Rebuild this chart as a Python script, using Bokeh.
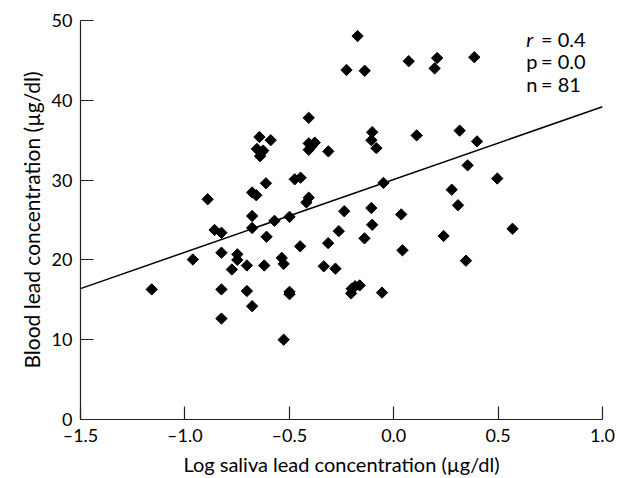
import numpy as np
from bokeh.plotting import figure
from bokeh.models import Range1d, FixedTicker, Label
from bokeh.embed import file_html
from bokeh.resources import INLINE

# --- data ---
saliva_log = [
    -1.159, -0.962, -0.891, -0.858, -0.825, -0.825, -0.825, -0.825, -0.775, -0.749,
    -0.749, -0.703, -0.703, -0.678, -0.678, -0.678, -0.678, -0.658, -0.620, -0.609,
    -0.643, -0.589, -0.655, -0.625, -0.640, -0.612, -0.407, -0.407, -0.378, -0.407,
    -0.313, -0.474, -0.446, -0.407, -0.418, -0.226, -0.237, -0.173, -0.139, -0.103,
    -0.107, -0.083, -0.049, 0.072, 0.208, 0.196, 0.386, 0.110, 0.316, 0.399,
    0.354, 0.496, 0.278, -0.107, 0.036, 0.308, -0.571, -0.499, -0.103, -0.263,
    -0.140, -0.448, -0.314, -0.536, -0.527, -0.335, -0.279, -0.499, -0.499, -0.201,
    -0.163, -0.204, -0.056, -0.527, 0.042, 0.239, 0.569, 0.346, -0.632, -0.185,
    -0.395,
]
blood_lead = [
    16.3, 20.05, 27.6, 23.75, 23.4, 20.9, 16.3, 12.65, 18.8, 20.7,
    20.0, 19.3, 16.1, 14.2, 25.5, 24.0, 28.45, 28.1, 19.3, 22.9,
    35.4, 35.0, 33.9, 33.7, 33.0, 29.6, 37.8, 34.6, 34.7, 33.8,
    33.6, 30.1, 30.3, 27.8, 27.2, 43.8, 26.1, 48.05, 43.7, 36.0,
    35.0, 34.0, 29.65, 44.9, 45.3, 44.0, 45.4, 35.6, 36.2, 34.85,
    31.85, 30.2, 28.8, 26.5, 25.7, 26.85, 24.9, 25.4, 24.4, 23.6,
    22.7, 21.7, 22.1, 20.25, 19.5, 19.2, 18.9, 16.0, 15.7, 16.4,
    16.8, 15.8, 15.9, 10.0, 21.2, 23.0, 23.9, 19.9, 33.5, 16.7,
    34.2,
]
fit_x = [-1.5, 1.0]
fit_y = [16.4, 39.2]

x_ticks = [-1.5, -1.0, -0.5, 0.0, 0.5, 1.0]
x_tick_labels = ["\u20131.5", "\u20131.0", "\u20130.5", "0.0", "0.5", "1.0"]
y_ticks = [0, 10, 20, 30, 40, 50]

stat_names = ["r", "p", "n"]
stat_values = ["= 0.4", "= 0.0", "= 81"]
stat_y = [47.7, 44.9, 42.0]

FONT = "Lato"
TICK_FS = "18px"
XLABEL_FS = "20px"
YLABEL_FS = "21px"
STAT_FS = "20px"

p = figure(width=617, height=478, output_backend="svg", toolbar_location=None,
           x_range=Range1d(-1.5, 1.0), y_range=Range1d(0, 50),
           min_border_left=80, min_border_right=15, min_border_top=20,
           min_border_bottom=57)
p.outline_line_color = None
p.grid.visible = False
p.background_fill_color = "white"
p.border_fill_color = "white"

p.line(fit_x, fit_y, color="black", line_width=1.5)
p.scatter(saliva_log, blood_lead, marker="square", size=8, angle=np.pi / 4,
          fill_color="black", line_color="black")

for ax in (p.xaxis[0], p.yaxis[0]):
    ax.major_tick_in = 13
    ax.major_tick_out = 0
    ax.minor_tick_line_color = None
    ax.axis_line_color = "#222222"
    ax.major_tick_line_color = "#222222"
    ax.axis_line_width = 1.2
    ax.major_tick_line_width = 1.2
    ax.major_label_text_font = FONT
    ax.major_label_text_font_size = TICK_FS
    ax.major_label_text_color = "black"
    ax.axis_label_text_font = FONT
    ax.axis_label_text_font_style = "normal"
    ax.axis_label_text_color = "black"

p.xaxis[0].ticker = FixedTicker(ticks=x_ticks)
p.xaxis[0].major_label_overrides = dict(zip(x_ticks, x_tick_labels))
p.xaxis[0].axis_label = "Log saliva lead concentration (\u00b5g/dl)"
p.xaxis[0].axis_label_text_font_size = XLABEL_FS
p.xaxis[0].major_label_standoff = 4
p.xaxis[0].axis_label_standoff = 3

p.yaxis[0].ticker = FixedTicker(ticks=y_ticks)
p.yaxis[0].axis_label = "Blood lead concentration (\u00b5g/dl)"
p.yaxis[0].axis_label_text_font_size = YLABEL_FS
p.yaxis[0].major_label_standoff = 8
p.yaxis[0].axis_label_standoff = 5

for name, val, yy in zip(stat_names, stat_values, stat_y):
    p.add_layout(Label(x=0.635, y=yy, text=name, text_font=FONT,
                       text_font_size=STAT_FS,
                       text_font_style="italic" if name == "r" else "normal",
                       text_baseline="middle", text_color="black"))
    p.add_layout(Label(x=0.7055, y=yy, text=val, text_font=FONT,
                       text_font_size=STAT_FS, text_baseline="middle",
                       text_color="black"))

open("out.html", "w").write(file_html(p, INLINE))
